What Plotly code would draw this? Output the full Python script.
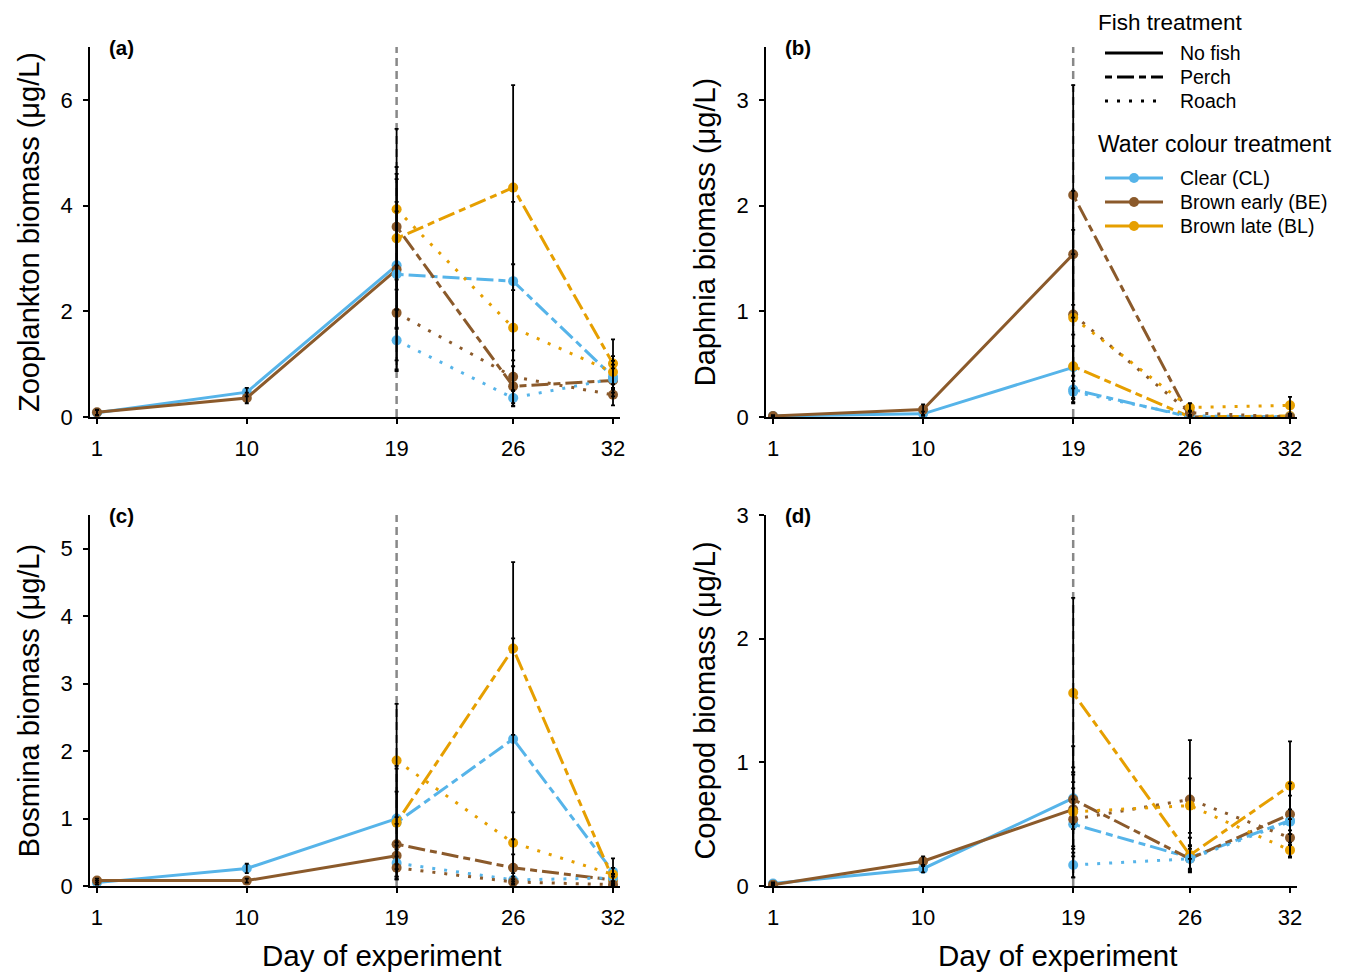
import plotly.graph_objects as go

# ---------------- data ----------------
days_pre = [1, 10, 19]
days_post = [19, 26, 32]
tick_days = [1, 10, 19, 26, 32]

# Panel (a) Zooplankton
a_nofish_cl = [0.08, 0.47, 2.87]; a_nofish_cl_err = [0.05, 0.08, 1.20]
a_nofish_be = [0.09, 0.36, 2.79]; a_nofish_be_err = [0.05, 0.10, 1.10]
a_perch_cl = [2.70, 2.57, 0.76]; a_perch_cl_err = [1.80, 1.50, 0.30]
a_perch_be = [3.60, 0.58, 0.69]; a_perch_be_err = [1.00, 0.38, 0.30]
a_perch_bl = [3.38, 4.34, 1.01]; a_perch_bl_err = [1.35, 1.94, 0.46]
a_roach_cl = [1.45, 0.36, 0.72]; a_roach_cl_err = [0.58, 0.15, 0.20]
a_roach_be = [1.97, 0.76, 0.42]; a_roach_be_err = [0.90, 0.50, 0.20]
a_roach_bl = [3.93, 1.69, 0.85]; a_roach_bl_err = [1.52, 1.20, 0.30]

# Panel (b) Daphnia
b_nofish_cl = [0.01, 0.03, 0.47]; b_nofish_cl_err = [0.005, 0.02, 0.20]
b_nofish_be = [0.01, 0.07, 1.54]; b_nofish_be_err = [0.005, 0.05, 0.60]
b_perch_cl = [0.26, 0.00, 0.00]; b_perch_cl_err = [0.13, 0.01, 0.01]
b_perch_be = [2.10, 0.00, 0.00]; b_perch_be_err = [1.04, 0.01, 0.01]
b_perch_bl = [0.48, 0.00, 0.01]; b_perch_bl_err = [0.30, 0.01, 0.01]
b_roach_cl = [0.24, 0.01, 0.00]; b_roach_cl_err = [0.10, 0.01, 0.01]
b_roach_be = [0.97, 0.04, 0.00]; b_roach_be_err = [0.80, 0.02, 0.01]
b_roach_bl = [0.94, 0.09, 0.11]; b_roach_bl_err = [0.60, 0.04, 0.08]

# Panel (c) Bosmina
c_nofish_cl = [0.05, 0.26, 1.00]; c_nofish_cl_err = [0.03, 0.07, 0.40]
c_nofish_be = [0.08, 0.08, 0.45]; c_nofish_be_err = [0.03, 0.03, 0.20]
c_perch_cl = [0.94, 2.18, 0.21]; c_perch_cl_err = [0.84, 1.49, 0.20]
c_perch_be = [0.62, 0.27, 0.09]; c_perch_be_err = [0.30, 0.20, 0.05]
c_perch_bl = [0.94, 3.52, 0.10]; c_perch_bl_err = [0.80, 1.28, 0.08]
c_roach_cl = [0.34, 0.09, 0.12]; c_roach_cl_err = [0.20, 0.05, 0.05]
c_roach_be = [0.27, 0.06, 0.02]; c_roach_be_err = [0.17, 0.04, 0.02]
c_roach_bl = [1.86, 0.64, 0.17]; c_roach_bl_err = [0.84, 0.45, 0.10]

# Panel (d) Copepod
d_nofish_cl = [0.02, 0.14, 0.71]; d_nofish_cl_err = [0.01, 0.03, 0.25]
d_nofish_be = [0.01, 0.20, 0.62]; d_nofish_be_err = [0.01, 0.04, 0.30]
d_perch_cl = [0.50, 0.23, 0.53]; d_perch_cl_err = [0.20, 0.10, 0.20]
d_perch_be = [0.70, 0.22, 0.58]; d_perch_be_err = [0.20, 0.08, 0.25]
d_perch_bl = [1.56, 0.25, 0.81]; d_perch_bl_err = [0.77, 0.14, 0.36]
d_roach_cl = [0.17, 0.22, 0.52]; d_roach_cl_err = [0.10, 0.10, 0.10]
d_roach_be = [0.54, 0.70, 0.39]; d_roach_be_err = [0.30, 0.48, 0.15]
d_roach_bl = [0.60, 0.65, 0.29]; d_roach_bl_err = [0.53, 0.22, 0.06]

panel_labels = ["(a)", "(b)", "(c)", "(d)"]
y_titles = ["Zooplankton biomass (μg/L)", "Daphnia biomass (μg/L)",
            "Bosmina biomass (μg/L)", "Copepod biomass (μg/L)"]
x_title = "Day of experiment"
y_ranges = [[0, 7.0], [0, 3.5], [0, 5.5], [0, 3.0]]
y_ticks = [[0, 2, 4, 6], [0, 1, 2, 3], [0, 1, 2, 3, 4, 5], [0, 1, 2, 3]]

fish_title = "Fish treatment"
fish_names = ["No fish", "Perch", "Roach"]
colour_title = "Water colour treatment"
colour_names = ["Clear (CL)", "Brown early (BE)", "Brown late (BL)"]

# ---------------- styles ----------------
COL = {"CL": "#56B4E9", "BE": "#8B5A2B", "BL": "#E69F00"}
DASH = {"nofish": "solid", "perch": "7px,5px,17px,5px", "roach": "3px,9px"}
FONT = "Liberation Sans, Arial, Helvetica, sans-serif"

panels = [
    {"nofish": {"CL": (a_nofish_cl, a_nofish_cl_err), "BE": (a_nofish_be, a_nofish_be_err)},
     "perch": {"CL": (a_perch_cl, a_perch_cl_err), "BE": (a_perch_be, a_perch_be_err), "BL": (a_perch_bl, a_perch_bl_err)},
     "roach": {"CL": (a_roach_cl, a_roach_cl_err), "BE": (a_roach_be, a_roach_be_err), "BL": (a_roach_bl, a_roach_bl_err)}},
    {"nofish": {"CL": (b_nofish_cl, b_nofish_cl_err), "BE": (b_nofish_be, b_nofish_be_err)},
     "perch": {"CL": (b_perch_cl, b_perch_cl_err), "BE": (b_perch_be, b_perch_be_err), "BL": (b_perch_bl, b_perch_bl_err)},
     "roach": {"CL": (b_roach_cl, b_roach_cl_err), "BE": (b_roach_be, b_roach_be_err), "BL": (b_roach_bl, b_roach_bl_err)}},
    {"nofish": {"CL": (c_nofish_cl, c_nofish_cl_err), "BE": (c_nofish_be, c_nofish_be_err)},
     "perch": {"CL": (c_perch_cl, c_perch_cl_err), "BE": (c_perch_be, c_perch_be_err), "BL": (c_perch_bl, c_perch_bl_err)},
     "roach": {"CL": (c_roach_cl, c_roach_cl_err), "BE": (c_roach_be, c_roach_be_err), "BL": (c_roach_bl, c_roach_bl_err)}},
    {"nofish": {"CL": (d_nofish_cl, d_nofish_cl_err), "BE": (d_nofish_be, d_nofish_be_err)},
     "perch": {"CL": (d_perch_cl, d_perch_cl_err), "BE": (d_perch_be, d_perch_be_err), "BL": (d_perch_bl, d_perch_bl_err)},
     "roach": {"CL": (d_roach_cl, d_roach_cl_err), "BE": (d_roach_be, d_roach_be_err), "BL": (d_roach_bl, d_roach_bl_err)}},
]

# page body has an 8px margin: figure is placed at (8, 8) in the window
OFF = 8
W, H = 1349 - OFF, 974 - OFF

def fx(px):
    return (px - OFF) / W

def fy(py):
    return 1 - (py - OFF) / H

x_domains = [[fx(90), fx(620)], [fx(766), fx(1297)], [fx(90), fx(620)], [fx(766), fx(1297)]]
y_domains = [[fy(417), fy(47)], [fy(417), fy(47)], [fy(886), fy(515)], [fy(886), fy(515)]]

fig = go.Figure()
err_traces = []
for i, p in enumerate(panels):
    xa = "x" if i == 0 else f"x{i+1}"
    ya = "y" if i == 0 else f"y{i+1}"
    for fish in ["nofish", "perch", "roach"]:
        xs = days_pre if fish == "nofish" else days_post
        for col, (vals, errs) in p[fish].items():
            fig.add_trace(go.Scatter(
                x=xs, y=vals, mode="lines+markers", xaxis=xa, yaxis=ya,
                line=dict(color=COL[col], width=3, dash=DASH[fish]),
                marker=dict(color=COL[col], size=10),
                showlegend=False, hoverinfo="skip"))
            err_traces.append(go.Scatter(
                x=xs, y=vals, mode="markers", xaxis=xa, yaxis=ya,
                marker=dict(size=0.1, color="black", opacity=0),
                error_y=dict(type="data", array=errs, visible=True,
                             color="black", thickness=1.8, width=2),
                showlegend=False, hoverinfo="skip"))
for t in err_traces:
    fig.add_trace(t)

layout = dict(
    width=W, height=H, margin=dict(l=0, r=0, t=0, b=0, autoexpand=False),
    paper_bgcolor="white", plot_bgcolor="white", showlegend=False,
    font=dict(family=FONT, color="black", size=22),
    shapes=[], annotations=[],
)

for i in range(4):
    xk = "xaxis" if i == 0 else f"xaxis{i+1}"
    yk = "yaxis" if i == 0 else f"yaxis{i+1}"
    xa = "x" if i == 0 else f"x{i+1}"
    ya = "y" if i == 0 else f"y{i+1}"
    layout[xk] = dict(domain=x_domains[i], anchor=ya, range=[0.58, 32.42],
                      tickmode="array", tickvals=tick_days,
                      ticktext=[str(d) for d in tick_days],
                      showline=True, linecolor="black", linewidth=1.8,
                      ticks="outside", ticklen=5, tickwidth=1.5, tickcolor="black",
                      showgrid=False, zeroline=False, ticklabelstandoff=6,
                      automargin=False, tickfont=dict(size=22))
    layout[yk] = dict(domain=y_domains[i], anchor=xa, range=y_ranges[i],
                      tickmode="array", tickvals=y_ticks[i],
                      showline=True, linecolor="black", linewidth=1.8,
                      ticks="outside", ticklen=5, tickwidth=1.5, tickcolor="black",
                      showgrid=False, zeroline=False, ticklabelstandoff=6,
                      automargin=False, tickfont=dict(size=22),
                      title=dict(text=y_titles[i], font=dict(size=29), standoff=12))
    layout["shapes"].append(dict(type="line", xref=xa, yref=f"{ya} domain",
                                 x0=19, x1=19, y0=0, y1=1, layer="below",
                                 line=dict(color="#888888", width=2.5, dash="8px,5px")))
    layout["annotations"].append(dict(text=f"<b>{panel_labels[i]}</b>", xref=f"{xa} domain",
                                      yref=f"{ya} domain", x=0.032, y=1.0,
                                      xanchor="left", yanchor="middle", showarrow=False,
                                      font=dict(size=20.5)))

# x-axis titles under the bottom panels
for cx in [381, 1057]:
    layout["annotations"].append(dict(text=x_title, xref="paper", yref="paper",
                                      x=fx(cx), y=fy(955), xanchor="center",
                                      yanchor="middle", showarrow=False,
                                      font=dict(size=29.5)))

# ---------------- manual legend (paper coordinates) ----------------
def add_text(txt, xpx, ypx, size):
    layout["annotations"].append(dict(text=txt, xref="paper", yref="paper",
                                      x=fx(xpx), y=fy(ypx), xanchor="left",
                                      yanchor="middle", showarrow=False,
                                      borderpad=0, font=dict(size=size)))

add_text(fish_title, 1097, 23, 22.5)
for k, (name, key) in enumerate(zip(fish_names, ["nofish", "perch", "roach"])):
    yy = 53 + 24 * k
    layout["shapes"].append(dict(type="line", xref="paper", yref="paper",
                                 x0=fx(1105), x1=fx(1163), y0=fy(yy), y1=fy(yy),
                                 line=dict(color="black", width=3, dash=DASH[key])))
    add_text(name, 1179, yy, 19.5)

add_text(colour_title, 1097, 144, 23)
for k, (name, key) in enumerate(zip(colour_names, ["CL", "BE", "BL"])):
    yy = 178 + 24 * k
    layout["shapes"].append(dict(type="line", xref="paper", yref="paper",
                                 x0=fx(1105), x1=fx(1163), y0=fy(yy), y1=fy(yy),
                                 line=dict(color=COL[key], width=3)))
    r = 5
    layout["shapes"].append(dict(type="circle", xref="paper", yref="paper",
                                 x0=fx(1134 - r), x1=fx(1134 + r),
                                 y0=fy(yy + r), y1=fy(yy - r),
                                 fillcolor=COL[key], line=dict(width=0)))
    add_text(name, 1179, yy, 19.5)

fig.update_layout(**layout)
fig.write_html("out.html")
